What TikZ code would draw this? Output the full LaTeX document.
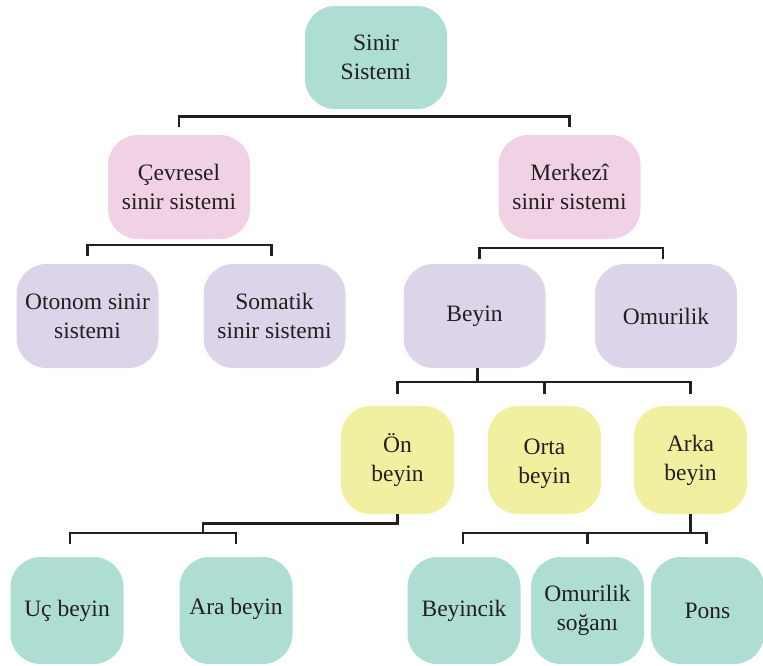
\documentclass[tikz,border=0pt]{standalone}
\usepackage{fontspec}
\setmainfont{Liberation Serif}
\usetikzlibrary{calc}
\definecolor{cteal}{RGB}{174,221,211}
\definecolor{cpink}{RGB}{240,210,228}
\definecolor{clav}{RGB}{220,212,232}
\definecolor{cyel}{RGB}{241,240,160}
\definecolor{cink}{RGB}{35,31,32}
\begin{document}
\begin{tikzpicture}[x=1pt,y=-1pt,
  boxfont/.style={font=\fontsize{23.5}{29}\selectfont,text=cink,align=center},
  box/.style={rectangle,rounded corners=30pt,draw=none,boxfont,inner sep=0pt},
  bigbox/.style={box,minimum width=142pt,minimum height=104pt},
  smallbox/.style={box,minimum width=113pt,minimum height=108pt},
  conn/.style={draw=cink,line width=2.6pt,line cap=butt,line join=miter}]
\useasboundingbox (0,0) rectangle (763,666);
% level 0
\node[bigbox,fill=cteal,minimum height=103pt] (sinir) at (376,57.5) {Sinir\\Sistemi};
% level 1
\node[bigbox,fill=cpink] (cev) at (179,187) {Çevresel\\sinir sistemi};
\node[bigbox,fill=cpink] (mer) at (569.5,187) {Merkezî\\sinir sistemi};
% level 2
\node[bigbox,fill=clav] (oto) at (87.5,316) {Otonom sinir\\sistemi};
\node[bigbox,fill=clav] (som) at (274.5,316) {Somatik\\sinir sistemi};
\node[bigbox,fill=clav] (bey) at (474.5,316) {Beyin};
\node[bigbox,fill=clav] (omu) at (666,316) {Omurilik};
% level 3
\node[smallbox,fill=cyel] (on) at (397.5,460) {Ön\\beyin};
\node[smallbox,fill=cyel,label={[boxfont,yshift=-4pt]center:Orta\\beyin}] (orta) at (544.5,460) {};
\node[smallbox,fill=cyel] (arka) at (690.5,460) {Arka\\beyin};
% level 4
\node[smallbox,fill=cteal,minimum height=107pt] (uc) at (67,610.5) {Uç beyin};
\node[smallbox,fill=cteal,minimum height=107pt,label={[boxfont,yshift=2pt]center:Ara beyin}] (ara) at (236,610.5) {};
\node[smallbox,fill=cteal,minimum height=107pt] (beyc) at (464,610.5) {Beyincik};
\node[smallbox,fill=cteal,minimum height=107pt] (sog) at (587.5,610.5) {Omurilik\\soğanı};
\node[smallbox,fill=cteal,minimum height=107pt] (pons) at (707.5,610.5) {Pons};
% connectors
\draw[conn] ([yshift=8pt]cev.north) -- ++(0,-10) -| ([yshift=8pt]mer.north);
\draw[conn] ([yshift=8pt]oto.north) -- ++(0,-11) -| ([xshift=-3pt,yshift=8pt]som.north);
\draw[conn] ([xshift=5pt,yshift=5pt]bey.north) -- ++(0,-11) -| ([xshift=-3pt,yshift=5pt]omu.north);
\draw[conn] ([xshift=3pt]bey.south) -- ++(0,14);
\draw[conn] ([yshift=12pt]on.north) -- ++(0,-12) -| ([yshift=12pt]arka.north);
\draw[conn] ([yshift=12pt]orta.north) -- ++(0,-12);
\coordinate (onj) at (203,533);
\draw[conn] (on.south) -- ++(0,9) -| (onj);
\draw[conn] ([xshift=3pt,yshift=13pt]uc.north) -- ++(0,-11) -| ([yshift=13pt]ara.north);
\draw[conn] (arka.south) -- ++(0,19);
\draw[conn] ([xshift=-1pt,yshift=13pt]beyc.north) -- ++(0,-11) -| ([xshift=-1pt,yshift=13pt]pons.north);
\draw[conn] ([yshift=13pt]sog.north) -- ++(0,-11);
\end{tikzpicture}
\end{document}
